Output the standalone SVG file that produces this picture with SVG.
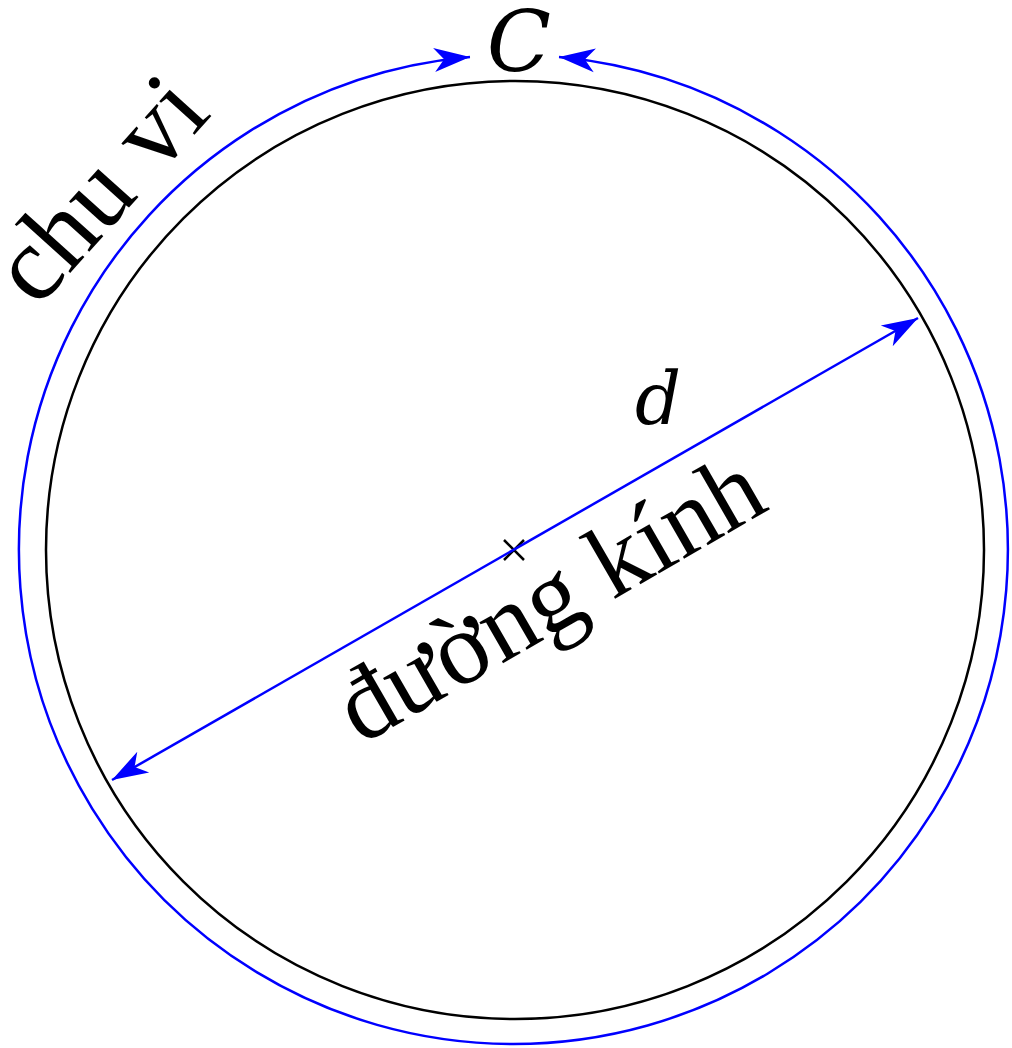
<svg xmlns="http://www.w3.org/2000/svg" width="1012" height="1048" viewBox="0 0 1012 1048">
<style>
.lbl{font-family:"Liberation Serif","Times New Roman",serif;fill:#000}
.it{font-family:"DejaVu Serif",serif;font-style:italic;fill:#000}
.blue{fill:none;stroke:#0000ff;stroke-width:2.5}
</style>
<defs>
<marker id="ah" markerUnits="userSpaceOnUse" markerWidth="40" markerHeight="30" viewBox="-38 -14 40 28" refX="0" refY="0" orient="auto-start-reverse">
<path d="M0,0 L-36,-12 L-26,0 L-36,12 Z" fill="#0000ff"/>
</marker>
</defs>
<rect width="1012" height="1048" fill="#fff"/>
<g id="circle">
<circle cx="515" cy="550" r="469" fill="none" stroke="#000" stroke-width="2.5"/>
</g>
<g id="center">
<path d="M504,540 L524,560 M504,560 L524,540" stroke="#000" stroke-width="2.5"/>
</g>
<g id="connectors">
<path class="blue" d="M559,57.1 A494.5,494.5 0 1 1 470,56.9" marker-start="url(#ah)" marker-end="url(#ah)"/>
<path class="blue" d="M112,780 L918,318" marker-start="url(#ah)" marker-end="url(#ah)"/>
</g>
<g id="labels">
<text class="it" x="519" y="71" font-size="84" text-anchor="middle">C</text>
<text class="it" x="658" y="424" font-size="72" text-anchor="middle">d</text>
<text class="lbl" font-size="103" text-anchor="middle" transform="translate(566,627) rotate(-30)">đường kính</text>
<text class="lbl" font-size="106" text-anchor="middle" transform="translate(125,212) rotate(-48)">chu vi</text>
</g>
</svg>
